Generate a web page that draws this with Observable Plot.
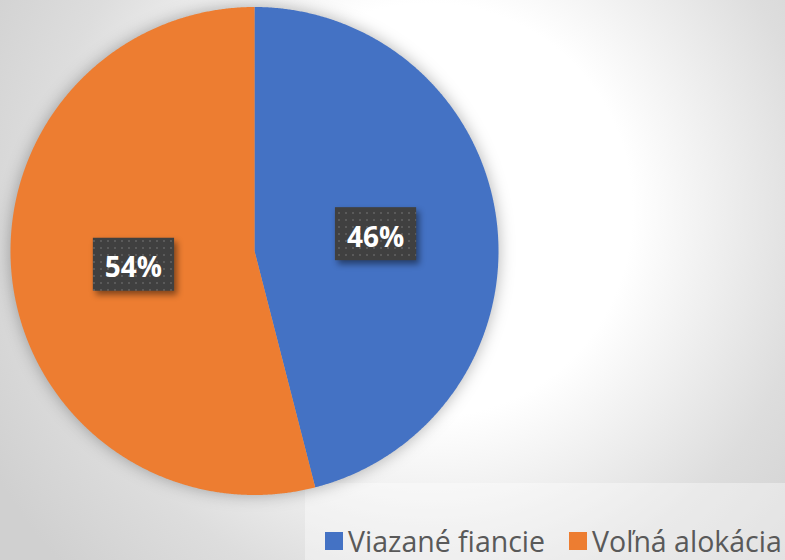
<!DOCTYPE html>
<html>
<head>
<meta charset="utf-8">
<script src="https://cdn.jsdelivr.net/npm/d3@7"></script>
<script src="https://cdn.jsdelivr.net/npm/@observablehq/plot@0.6"></script>
<style>
  html, body { margin: 0; padding: 0; }
  #wrap {
    position: relative; width: 785px; height: 560px; overflow: hidden;
    background: radial-gradient(ellipse 460px 470px at 430px 210px, #ffffff 0%, #ffffff 44%, #eeeeee 64%, #dddddd 84%, #d0d0d0 110%);
    font-family: "Open Sans", sans-serif;
  }
  #legendbox {
    position: absolute; left: 305px; top: 483px; width: 480px; height: 77px;
    background: rgba(255,255,255,0.38);
  }
  #legend {
    position: absolute; left: 325px; top: 529px; height: 24px;
    display: flex; align-items: center; white-space: nowrap;
    font-size: 28.5px; line-height: 24px; color: #595959;
  }
  #legend .sw { display: inline-block; width: 18px; height: 18px; margin-right: 5px; }
  #legend .item { display: flex; align-items: center; margin-right: 24px; }
  #wrap svg { position: absolute; left: 0; top: 0; }
</style>
</head>
<body>
<div id="wrap"><div id="legendbox"></div><div id="chart"></div><div id="legend"></div></div>
<script>
const categories = ["Viazané fiancie", "Voľná alokácia"];
const values = [46, 54];
const labels = ["46%", "54%"];
const colors = ["#4472C4", "#ED7D31"];

// pie geometry from data (unit circle, angle 0 at top, clockwise)
const arcs = d3.pie().sort(null)(values);
const slicePts = [];
arcs.forEach((a, i) => {
  const cat = categories[i];
  slicePts.push({cat, x: 0, y: 0});
  const n = Math.max(2, Math.ceil((a.endAngle - a.startAngle) / 0.005));
  for (let k = 0; k <= n; k++) {
    const t = a.startAngle + (a.endAngle - a.startAngle) * k / n;
    slicePts.push({cat, x: Math.sin(t), y: Math.cos(t)});
  }
  slicePts.push({cat, x: 0, y: 0});
});
const labelPts = arcs.map((a, i) => {
  const m = (a.startAngle + a.endAngle) / 2;
  return {label: labels[i], x: 0.5 * Math.sin(m), y: 0.5 * Math.cos(m)};
});

const chart = Plot.plot({
  width: 785, height: 560, margin: 0,
  x: {domain: [-254/244, (785-254)/244], axis: null},
  y: {domain: [-(560-250.5)/244, 250.5/244], axis: null},
  color: {domain: categories, range: colors},
  style: {background: "transparent", overflow: "visible"},
  marks: [
    Plot.line(slicePts, {x: "x", y: "y", z: "cat", fill: "cat", stroke: "none", curve: "linear"}),
    Plot.text(labelPts, {x: "x", y: "y", dy: 2, text: "label", fill: "white", fontSize: 28, fontWeight: "bold", fontFamily: "Open Sans"})
  ]
});
document.getElementById("chart").appendChild(chart);

// soft halo around the pie
const lineG = chart.querySelector('g[aria-label="line"]');
if (lineG) lineG.style.filter = "drop-shadow(0 0 8px rgba(0,0,0,0.3))";

// dotted label boxes
const ns = "http://www.w3.org/2000/svg";
const defs = document.createElementNS(ns, "defs");
defs.innerHTML = '<pattern id="dots" width="7" height="7" patternUnits="userSpaceOnUse">' +
  '<rect width="7" height="7" fill="#404040"/><rect x="2" y="2" width="2" height="2" fill="#5a5a5a"/></pattern>';
chart.insertBefore(defs, chart.firstChild);
const textG = chart.querySelector('g[aria-label="text"]');
if (textG) {
  const boxG = document.createElementNS(ns, "g");
  boxG.style.filter = "drop-shadow(3px 4px 3px rgba(0,0,0,0.45))";
  const svgR = chart.getBoundingClientRect();
  textG.querySelectorAll("text").forEach(t => {
    const r = t.getBoundingClientRect();
    const cx = r.left - svgR.left + r.width / 2;
    const cy = r.top - svgR.top + r.height / 2 - 2;
    const w = r.width + 24, h = 53;
    const rect = document.createElementNS(ns, "rect");
    rect.setAttribute("x", cx - w / 2);
    rect.setAttribute("y", cy - h / 2);
    rect.setAttribute("width", w);
    rect.setAttribute("height", h);
    rect.setAttribute("fill", "url(#dots)");
    boxG.appendChild(rect);
  });
  chart.insertBefore(boxG, textG);
}

// legend
const legend = document.getElementById("legend");
categories.forEach((c, i) => {
  const item = document.createElement("span");
  item.className = "item";
  const sw = document.createElement("span");
  sw.className = "sw";
  sw.style.background = colors[i];
  item.appendChild(sw);
  item.appendChild(document.createTextNode(c));
  legend.appendChild(item);
});
</script>
</body>
</html>
